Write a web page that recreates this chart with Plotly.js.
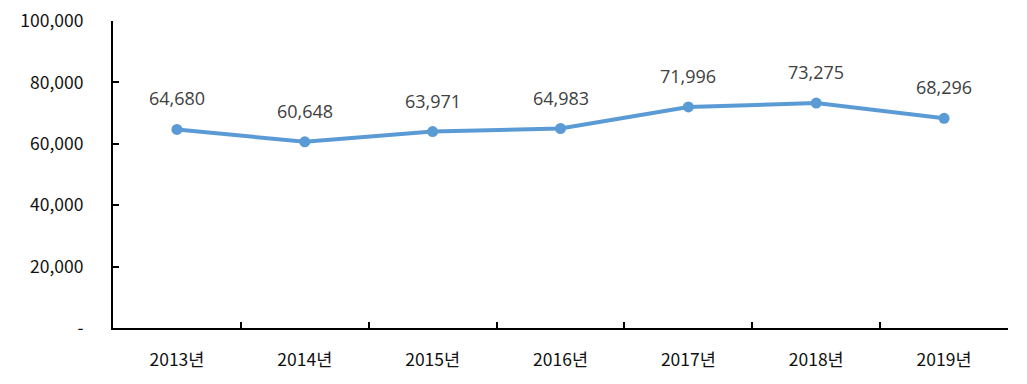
<!DOCTYPE html>
<html><head><meta charset="utf-8">
<script src="https://cdn.plot.ly/plotly-3.0.1.min.js"></script>
<style>html,body{margin:0;padding:0;background:#fff}#c{width:1027px;height:384px}</style>
</head><body><div id="c"></div>
<script>
const years = ["2013년","2014년","2015년","2016년","2017년","2018년","2019년"];
const values = [64680, 60648, 63971, 64983, 71996, 73275, 68296];
const yTickVals = [0, 20000, 40000, 60000, 80000, 100000];
const yTickText = ["-", "20,000", "40,000", "60,000", "80,000", "100,000"];

const fmt = v => v.toLocaleString("en-US");
const cjk = "Noto Sans CJK KR, Noto Sans, sans-serif";
const lbl = "Open Sans, Noto Sans, sans-serif";

const trace = {
  x: years, y: values, type: "scatter", mode: "lines+markers",
  line: {color: "#5B9BD5", width: 4},
  marker: {color: "#5B9BD5", size: 11},
  hoverinfo: "none"
};
const annotations = years.map((yr, i) => ({
  x: yr, y: values[i], text: fmt(values[i]), showarrow: false,
  yshift: 31, font: {family: lbl, size: 18, color: "#404040"}
}));
const layout = {
  width: 1027, height: 384,
  margin: {l: 113, r: 19, t: 21, b: 56},
  paper_bgcolor: "#fff", plot_bgcolor: "#fff",
  showlegend: false,
  font: {family: cjk, size: 16, color: "#000"},
  xaxis: {
    type: "category", showline: true, linecolor: "#000", linewidth: 2,
    showgrid: false, zeroline: false, ticks: "inside", tickson: "boundaries",
    ticklen: 6, tickwidth: 2, tickcolor: "#000",
    range: [-0.5, 6.5], ticklabelstandoff: 15,
    tickfont: {family: cjk, size: 17.5, color: "#111"}
  },
  yaxis: {
    range: [0, 100000], showline: true, linecolor: "#000", linewidth: 2,
    showgrid: false, zeroline: false, ticks: "inside", ticklen: 6,
    tickwidth: 2, tickcolor: "#000",
    tickvals: yTickVals, ticktext: yTickText, ticklabelstandoff: 24,
    tickfont: {family: cjk, size: 17.5, color: "#111"}
  },
  annotations: annotations
};
Plotly.newPlot("c", [trace], layout, {displayModeBar: false, staticPlot: true});
</script></body></html>
